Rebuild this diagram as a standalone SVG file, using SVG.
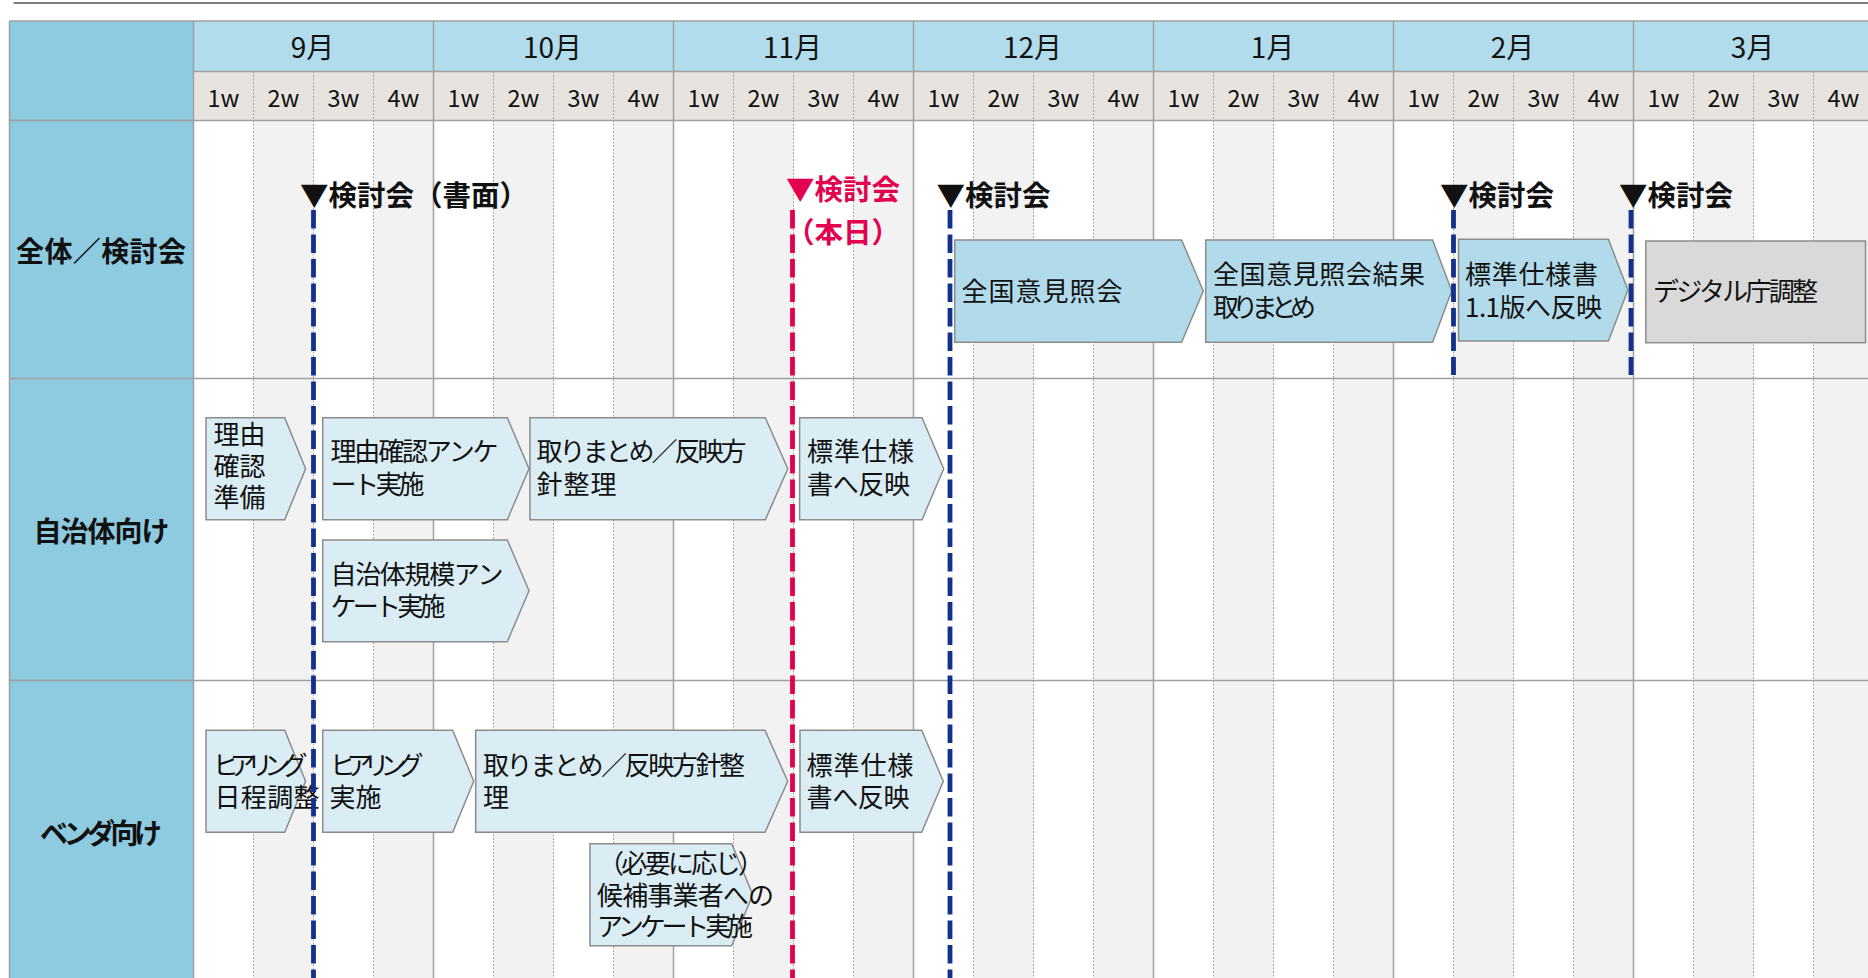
<svg xmlns="http://www.w3.org/2000/svg" width="1868" height="978" viewBox="0 0 1868 978">
<style>
text{font-family:"Noto Sans CJK JP","Noto Sans",sans-serif;fill:#111}
.mon{font-size:28px;text-anchor:middle}
.wk{font-size:23.5px;text-anchor:middle}
.lbl{font-size:28px;font-weight:bold;text-anchor:middle}
.mk{font-size:28.5px;font-weight:bold}
.red{fill:#E2004F}
.t{font-size:26px}
.ta{fill:#B1DBEA;stroke:#8C8C8C;stroke-width:1.5}
.tb{fill:#DAEDF4;stroke:#8C8C8C;stroke-width:1.5}
.tg{fill:#D9D9D9;stroke:#8C8C8C;stroke-width:1.5}
.gcol{fill:#F2F2F2}
.ml{stroke:#A0A0A0;stroke-width:1.5}
.wl{stroke:#A8A8A8;stroke-width:1;stroke-dasharray:2 1.5}
.hl{stroke:#A0A0A0;stroke-width:1.5}
.dn{stroke:#13318C;stroke-width:4.8;stroke-dasharray:18.5 6;fill:none}
.dr{stroke:#E2004F;stroke-width:4.8;stroke-dasharray:18.5 6;fill:none}
</style>
<rect width="1868" height="978" fill="#FFFFFF"/>
<line x1="13.5" y1="3" x2="1868" y2="3" stroke="#555555" stroke-width="1.6"/>
<g id="grid">
<rect x="9.5" y="21" width="184" height="957" fill="#8ECAE0"/>
<rect x="193.5" y="21" width="1680" height="50.5" fill="#B1DCEB"/>
<rect x="193.5" y="71.5" width="1680" height="49" fill="#E7E4DF"/>
<g class="gcol">
<rect x="253.5" y="120.5" width="60" height="857.5"/><rect x="373.5" y="120.5" width="60" height="857.5"/>
<rect x="493.5" y="120.5" width="60" height="857.5"/><rect x="613.5" y="120.5" width="60" height="857.5"/>
<rect x="733.5" y="120.5" width="60" height="857.5"/><rect x="853.5" y="120.5" width="60" height="857.5"/>
<rect x="973.5" y="120.5" width="60" height="857.5"/><rect x="1093.5" y="120.5" width="60" height="857.5"/>
<rect x="1213.5" y="120.5" width="60" height="857.5"/><rect x="1333.5" y="120.5" width="60" height="857.5"/>
<rect x="1453.5" y="120.5" width="60" height="857.5"/><rect x="1573.5" y="120.5" width="60" height="857.5"/>
<rect x="1693.5" y="120.5" width="60" height="857.5"/><rect x="1813.5" y="120.5" width="60" height="857.5"/>
</g>
<g class="wl">
<line x1="253.5" y1="71.5" x2="253.5" y2="978"/><line x1="313.5" y1="71.5" x2="313.5" y2="978"/><line x1="373.5" y1="71.5" x2="373.5" y2="978"/>
<line x1="493.5" y1="71.5" x2="493.5" y2="978"/><line x1="553.5" y1="71.5" x2="553.5" y2="978"/><line x1="613.5" y1="71.5" x2="613.5" y2="978"/>
<line x1="733.5" y1="71.5" x2="733.5" y2="978"/><line x1="793.5" y1="71.5" x2="793.5" y2="978"/><line x1="853.5" y1="71.5" x2="853.5" y2="978"/>
<line x1="973.5" y1="71.5" x2="973.5" y2="978"/><line x1="1033.5" y1="71.5" x2="1033.5" y2="978"/><line x1="1093.5" y1="71.5" x2="1093.5" y2="978"/>
<line x1="1213.5" y1="71.5" x2="1213.5" y2="978"/><line x1="1273.5" y1="71.5" x2="1273.5" y2="978"/><line x1="1333.5" y1="71.5" x2="1333.5" y2="978"/>
<line x1="1453.5" y1="71.5" x2="1453.5" y2="978"/><line x1="1513.5" y1="71.5" x2="1513.5" y2="978"/><line x1="1573.5" y1="71.5" x2="1573.5" y2="978"/>
<line x1="1693.5" y1="71.5" x2="1693.5" y2="978"/><line x1="1753.5" y1="71.5" x2="1753.5" y2="978"/><line x1="1813.5" y1="71.5" x2="1813.5" y2="978"/>
</g>
<g class="ml">
<line x1="9.5" y1="21" x2="9.5" y2="978"/>
<line x1="193.5" y1="21" x2="193.5" y2="978"/><line x1="433.5" y1="21" x2="433.5" y2="978"/><line x1="673.5" y1="21" x2="673.5" y2="978"/>
<line x1="913.5" y1="21" x2="913.5" y2="978"/><line x1="1153.5" y1="21" x2="1153.5" y2="978"/><line x1="1393.5" y1="21" x2="1393.5" y2="978"/>
<line x1="1633.5" y1="21" x2="1633.5" y2="978"/>
</g>
<g class="hl">
<line x1="9.5" y1="21" x2="1868" y2="21"/>
<line x1="193.5" y1="71.5" x2="1868" y2="71.5"/>
<line x1="9.5" y1="120.5" x2="1868" y2="120.5"/>
<line x1="9.5" y1="378.5" x2="1868" y2="378.5"/>
<line x1="9.5" y1="680.5" x2="1868" y2="680.5"/>
</g>
<g class="mon">
<text x="312.5" y="57.5">9月</text><text x="552.5" y="57.5">10月</text><text x="792.5" y="57.5">11月</text>
<text x="1032.5" y="57.5">12月</text><text x="1272.5" y="57.5">1月</text><text x="1512.5" y="57.5">2月</text><text x="1752.5" y="57.5">3月</text>
</g>
<g class="wk">
<text x="223.5" y="106.5">1w</text><text x="283.5" y="106.5">2w</text><text x="343.5" y="106.5">3w</text><text x="403.5" y="106.5">4w</text>
<text x="463.5" y="106.5">1w</text><text x="523.5" y="106.5">2w</text><text x="583.5" y="106.5">3w</text><text x="643.5" y="106.5">4w</text>
<text x="703.5" y="106.5">1w</text><text x="763.5" y="106.5">2w</text><text x="823.5" y="106.5">3w</text><text x="883.5" y="106.5">4w</text>
<text x="943.5" y="106.5">1w</text><text x="1003.5" y="106.5">2w</text><text x="1063.5" y="106.5">3w</text><text x="1123.5" y="106.5">4w</text>
<text x="1183.5" y="106.5">1w</text><text x="1243.5" y="106.5">2w</text><text x="1303.5" y="106.5">3w</text><text x="1363.5" y="106.5">4w</text>
<text x="1423.5" y="106.5">1w</text><text x="1483.5" y="106.5">2w</text><text x="1543.5" y="106.5">3w</text><text x="1603.5" y="106.5">4w</text>
<text x="1663.5" y="106.5">1w</text><text x="1723.5" y="106.5">2w</text><text x="1783.5" y="106.5">3w</text><text x="1843.5" y="106.5">4w</text>
</g>
</g>
<g id="row-labels">
<text class="lbl" x="101" y="262" textLength="170">全体／検討会</text>
<text class="lbl" x="101.5" y="541.5" textLength="136">自治体向け</text>
<text class="lbl" x="101" y="843.5" textLength="122">ベンダ向け</text>
</g>
<g id="task-zenkoku">
<polygon class="ta" points="954.7,240 1181.6,240 1203.3,291 1181.6,342.3 954.7,342.3"/>
<text class="t" x="961.5" y="300.5" textLength="161">全国意見照会</text>
</g>
<g id="task-kekka">
<polygon class="ta" points="1205.7,240 1432.6,240 1451.7,291 1432.6,342.3 1205.7,342.3"/>
<text class="t" x="1213" y="284" textLength="212">全国意見照会結果</text>
<text class="t" x="1213" y="316.5" textLength="103">取りまとめ</text>
</g>
<g id="task-hyojun11">
<polygon class="ta" points="1458.6,239.3 1608.4,239.3 1627.9,290 1608.4,341 1458.6,341"/>
<text class="t" x="1465" y="283.5" textLength="133">標準仕様書</text>
<text class="t" x="1465" y="316.5" textLength="137">1.1版へ反映</text>
</g>
<g id="task-digital">
<rect class="tg" x="1645.8" y="241" width="219.7" height="101.7"/>
<text class="t" x="1653" y="300.5" textLength="165">デジタル庁調整</text>
</g>
<g id="task-riyu-junbi">
<polygon class="tb" points="206,417.7 284.7,417.7 305.6,468.7 284.7,519.7 206,519.7"/>
<text class="t" x="213.5" y="444">理由</text>
<text class="t" x="213.5" y="475.5">確認</text>
<text class="t" x="213.5" y="507">準備</text>
</g>
<g id="task-riyu-enquete">
<polygon class="tb" points="322.7,417.7 507.3,417.7 529,468.7 507.3,519.7 322.7,519.7"/>
<text class="t" x="330.5" y="460.5" textLength="168">理由確認アンケ</text>
<text class="t" x="330.5" y="493.5" textLength="94">ート実施</text>
</g>
<g id="task-jichi-torimatome">
<polygon class="tb" points="529.9,417.7 765.3,417.7 787.8,468.7 765.3,519.7 529.9,519.7"/>
<text class="t" x="536.5" y="460.5" textLength="210">取りまとめ／反映方</text>
<text class="t" x="536.5" y="493.5" textLength="80">針整理</text>
</g>
<g id="task-jichi-hanei">
<polygon class="tb" points="799.6,417.7 922,417.7 943.7,468.7 922,519.7 799.6,519.7"/>
<text class="t" x="807" y="460.5" textLength="107">標準仕様</text>
<text class="t" x="807" y="493.5" textLength="103">書へ反映</text>
</g>
<g id="task-kibo-enquete">
<polygon class="tb" points="322.7,540 507.3,540 529,590.8 507.3,641.7 322.7,641.7"/>
<text class="t" x="330.5" y="584" textLength="173">自治体規模アン</text>
<text class="t" x="330.5" y="616" textLength="115">ケート実施</text>
</g>
<g id="task-hearing-chosei">
<polygon class="tb" points="206,730.3 284.7,730.3 305.6,781.3 284.7,832.3 206,832.3"/>
<text class="t" x="212.5" y="774.5" textLength="95">ヒアリング</text>
<text class="t" x="214.5" y="807" textLength="105">日程調整</text>
</g>
<g id="task-hearing">
<polygon class="tb" points="322.7,730.3 452.7,730.3 473.7,781.3 452.7,832.3 322.7,832.3"/>
<text class="t" x="329.5" y="774.5" textLength="94">ヒアリング</text>
<text class="t" x="329.5" y="807">実施</text>
</g>
<g id="task-vendor-torimatome">
<polygon class="tb" points="475.7,730.3 765,730.3 787.7,781.3 765,832.3 475.7,832.3"/>
<text class="t" x="483" y="774.5" textLength="262">取りまとめ／反映方針整</text>
<text class="t" x="483" y="807">理</text>
</g>
<g id="task-vendor-hanei">
<polygon class="tb" points="800,730.3 921.7,730.3 943.3,781.3 921.7,832.3 800,832.3"/>
<text class="t" x="806.5" y="774.5" textLength="107">標準仕様</text>
<text class="t" x="806.5" y="807" textLength="103">書へ反映</text>
</g>
<g id="task-kouho-enquete">
<polygon class="tb" points="590,843.7 731.7,843.7 752.7,894.7 731.7,945.7 590,945.7"/>
<text class="t" x="598" y="872.5" textLength="166">（必要に応じ）</text>
<text class="t" x="597" y="904.5" textLength="177">候補事業者への</text>
<text class="t" x="597" y="936" textLength="156">アンケート実施</text>
</g>
<g id="connectors">
<line class="dn" x1="313.5" y1="210" x2="313.5" y2="978"/>
<line class="dr" x1="792.5" y1="210" x2="792.5" y2="978"/>
<line class="dn" x1="950" y1="210" x2="950" y2="978"/>
<line class="dn" x1="1453.5" y1="210" x2="1453.5" y2="375"/>
<line class="dn" x1="1631" y1="210" x2="1631" y2="375"/>
</g>
<g id="milestones">
<text class="mk" x="300" y="205.5">▼検討会（書面）</text>
<text class="mk red" x="786" y="200">▼検討会</text>
<text class="mk red" x="786" y="243">（本日）</text>
<text class="mk" x="936.5" y="205.5">▼検討会</text>
<text class="mk" x="1440" y="205.5">▼検討会</text>
<text class="mk" x="1619" y="205.5">▼検討会</text>
</g>
</svg>
